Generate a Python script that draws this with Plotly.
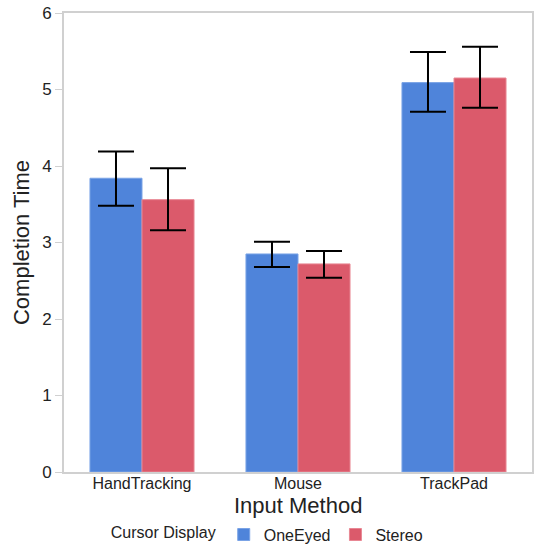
import plotly.graph_objects as go

categories = ["HandTracking", "Mouse", "TrackPad"]
oneeyed = [3.84, 2.85, 5.09]
oneeyed_hi = [4.19, 3.01, 5.49]
oneeyed_lo = [3.48, 2.68, 4.71]
stereo = [3.56, 2.72, 5.15]
stereo_hi = [3.97, 2.89, 5.56]
stereo_lo = [3.16, 2.54, 4.76]

FONT = "Liberation Sans, Arial, Helvetica, sans-serif"

def err(v, hi, lo):
    return dict(type="data", symmetric=False,
                array=[h - x for x, h in zip(v, hi)],
                arrayminus=[x - l for x, l in zip(v, lo)],
                color="black", thickness=2, width=18)

fig = go.Figure()
fig.add_trace(go.Bar(name="OneEyed", x=categories, y=oneeyed,
                     marker=dict(color="#4f84da", line=dict(color="#7aa3e6", width=1)),
                     error_y=err(oneeyed, oneeyed_hi, oneeyed_lo)))
fig.add_trace(go.Bar(name="Stereo", x=categories, y=stereo,
                     marker=dict(color="#db5a6b", line=dict(color="#e88794", width=1)),
                     error_y=err(stereo, stereo_hi, stereo_lo)))

fig.update_layout(
    width=536, height=550,
    margin=dict(l=64, r=4, t=13, b=78),
    paper_bgcolor="white", plot_bgcolor="white",
    barmode="group", bargap=0.333, bargroupgap=0,
    font=dict(family=FONT, size=16, color="#222"),
    showlegend=True,
    legend=dict(orientation="h", xref="container", yref="container",
                x=0.203, xanchor="left", y=0.028, yanchor="middle",
                title=dict(text="Cursor Display", font=dict(size=16), side="left"),
                font=dict(size=16), itemwidth=30, traceorder="normal"),
    xaxis=dict(showline=True, linecolor="#d0d0d0", linewidth=2, mirror=True,
               ticks="", tickfont=dict(size=16), automargin=False,
               ticklabelstandoff=-4),
    yaxis=dict(range=[0, 6], dtick=1, showgrid=False, zeroline=False,
               showline=True, linecolor="#d0d0d0", linewidth=2, mirror=True,
               ticks="outside", ticklen=7, tickcolor="#d0d0d0", tickwidth=1,
               tickfont=dict(size=17), automargin=False,
               title=dict(text="Completion Time", font=dict(size=22), standoff=6)),
    annotations=[dict(text="Input Method", x=0.5, xref="paper", y=0, yref="paper",
                      xanchor="center", yanchor="middle", yshift=-33,
                      showarrow=False, font=dict(size=22))],
)

fig.write_html("out.html")
